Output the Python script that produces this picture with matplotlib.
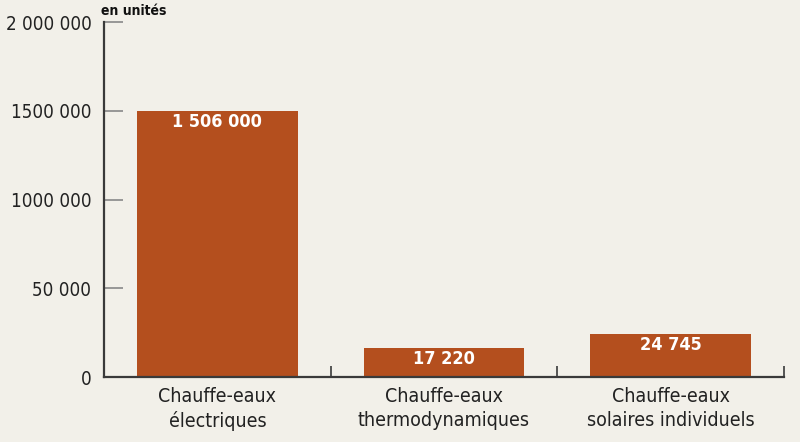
import matplotlib.pyplot as plt

# données
categories = ["Chauffe-eaux\nélectriques", "Chauffe-eaux\nthermodynamiques", "Chauffe-eaux\nsolaires individuels"]
hauteurs = [1500000, 165000, 243000]          # hauteur dessinée des barres
etiquettes = ["1 506 000", "17 220", "24 745"]  # valeurs affichées
yticks = [0, 500000, 1000000, 1500000, 2000000]
ytick_labels = ["0", "50 000", "1000 000", "1500 000", "2 000 000"]

plt.rcParams['font.family'] = ['DejaVu Sans']
plt.rcParams['font.stretch'] = 'condensed'

fond = '#f2f0e9'
couleur = '#b44f1e'
gris = '#3a3a3a'

fig = plt.figure(figsize=(8, 4.42), dpi=100, facecolor=fond)
ax = fig.add_axes([0.13, 0.147, 0.85, 0.803], facecolor=fond)

x = range(len(categories))
barres = ax.bar(x, hauteurs, width=0.71, color=couleur, zorder=2)
for b, t in zip(barres, etiquettes):
    ax.text(b.get_x() + b.get_width() / 2, b.get_height() - 10000, t,
            ha='center', va='top', color='white', fontsize=13, fontweight='bold',
            fontstretch='condensed', zorder=3)

ax.set_xlim(-0.5, 2.5)
ax.set_ylim(0, 2000000)
ax.set_yticks(yticks)
ax.set_yticklabels(ytick_labels, fontsize=13.5, color='#222222', fontstretch='condensed')
ax.tick_params(axis='y', direction='in', length=14, width=1.2, color='#888888', pad=9)

ax.set_xticks(list(x))
ax.set_xticklabels(categories, fontsize=14, color='#222222', linespacing=1.35,
                   fontstretch='condensed')
ax.tick_params(axis='x', length=0, pad=7)
ax.set_xticks([0.5, 1.5, 2.5], minor=True)
ax.tick_params(axis='x', which='minor', direction='in', length=8, width=1.2, color=gris)

for s in ['top', 'right']:
    ax.spines[s].set_visible(False)
for s in ['left', 'bottom']:
    ax.spines[s].set_color(gris)
    ax.spines[s].set_linewidth(1.6)

ax.text(-0.005, 1.012, "en unités", transform=ax.transAxes, fontsize=10,
        fontweight='bold', fontstretch='condensed', ha='left', va='bottom', color='#111111')

fig.savefig("out.png", dpi=100, facecolor=fond)
